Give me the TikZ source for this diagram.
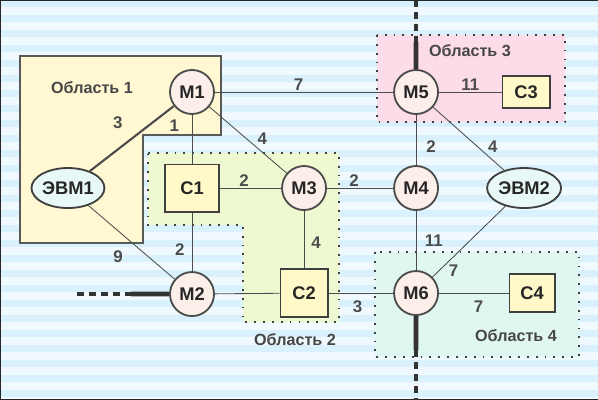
\documentclass[tikz,border=0pt]{standalone}
\usepackage{fontspec}
\setmainfont{Liberation Sans}
\usetikzlibrary{shapes.geometric, positioning}

\definecolor{stripeblue}{HTML}{D8F1FC}
\definecolor{stripelight}{HTML}{F0FAFE}
\definecolor{routerfill}{HTML}{FCEFEA}
\definecolor{serverfill}{HTML}{FFF8C8}
\definecolor{pcfill}{HTML}{E8F8F6}
\definecolor{zoneyellow}{HTML}{FFF8D2}
\definecolor{zonegreen}{HTML}{EEF9D2}
\definecolor{zonepink}{HTML}{FCDCE9}
\definecolor{zonecyan}{HTML}{DFF7F0}

\begin{document}
\begin{tikzpicture}[
  x=0.025cm, y=-0.025cm,
  router/.style={on grid, circle, draw=black!70, line width=1.3pt, fill=routerfill, minimum size=1.1cm, inner sep=0pt, font=\bfseries\fontsize{13}{15}\selectfont, text=black!85},
  server/.style={on grid, rectangle, draw=black!75, line width=1.3pt, fill=serverfill, minimum width=1.18cm, minimum height=1.2cm, inner sep=0pt, font=\bfseries\fontsize{13}{15}\selectfont, text=black!85},
  pc/.style={on grid, ellipse, draw=black!75, line width=1.3pt, fill=pcfill, minimum width=1.8cm, minimum height=1cm, inner sep=0pt, font=\bfseries\fontsize{13}{15}\selectfont, text=black!85},
  link/.style={draw=black!70, line width=0.6pt},
  weight/.style={font=\bfseries\fontsize{12}{14}\selectfont, text=black!70, inner sep=1pt},
  area/.style={font=\bfseries\fontsize{11.5}{14}\selectfont, text=black!72},
  zone/.style={draw=black!75, line width=1.3pt, dash pattern=on 1.3pt off 5pt},
  backbone/.style={line width=3.5pt, draw=black!80},
  backbonedash/.style={backbone, dash pattern=on 5pt off 3.5pt}
]

  \useasboundingbox (0,0) rectangle (598,400);

  % background
  \fill[stripelight] (0,0) rectangle (598,400);
  \foreach \y in {0,15,...,390}
    \fill[stripeblue] (0,\y) rectangle (598,\y+7);
  \draw[black!85, line width=1.2pt] (598,0) -- (0,0) -- (0,400) -- (598,400);

  % areas
  \filldraw[fill=zoneyellow, draw=black!65, line width=1.6pt]
    (20,56) -- (221,56) -- (221,135) -- (143,135) -- (143,243) -- (20,243) -- cycle;
  \filldraw[fill=zonegreen, zone]
    (148,153) -- (339,153) -- (339,322) -- (243,322) -- (243,225) -- (148,225) -- cycle;
  \filldraw[fill=zonepink, zone] (377,35) rectangle (565,122);
  \filldraw[fill=zonecyan, zone] (375,252) rectangle (579,357);

  \node[area] (area1) at (92,88) {Область 1};
  \node[area] (area2) at (295,340) {Область 2};
  \node[area] (area3) at (470,51) {Область 3};
  \node[area] (area4) at (516,336) {Область 4};

  % nodes
  \node[router] (M1) at (192,92) {М1};
  \node[router, right=5.6cm of M1] (M5) {М5};
  \node[router, below=2.4cm of M5] (M4) {М4};
  \node[router, below=2.625cm of M4] (M6) {М6};
  \node[router, left=2.8cm of M4] (M3) {М3};
  \node[server, left=2.8cm of M3, minimum width=1.33cm, minimum height=1.18cm] (C1) {С1};
  \node[pc, left=3.1cm of C1, minimum width=1.75cm] (EVM1) {ЭВМ1};
  \node[router, below=2.65cm of C1] (M2) {М2};
  \node[server, left=2.8cm of M6] (C2) {С2};
  \node[pc, right=2.7cm of M4, minimum width=1.85cm] (EVM2) {ЭВМ2};
  \node[server, right=2.75cm of M5, minimum height=0.78cm] (C3) {С3};
  \node[server, right=2.9cm of M6, minimum width=1.13cm, minimum height=0.95cm] (C4) {С4};

  % backbone
  \coordinate (bbnorth) at (416,0);
  \coordinate (bbnorthend) at (416,42);
  \coordinate (bbsouth) at (416,400);
  \coordinate (bbsouthend) at (416,350);
  \coordinate (bbwest) at (77,294);
  \coordinate (bbwestend) at (131,294);
  \draw[backbonedash] (bbnorth) -- (bbnorthend);
  \draw[backbone] (bbnorthend) -- (M5);
  \draw[backbone] (M6) -- (bbsouthend);
  \draw[backbonedash] (bbsouthend) -- (bbsouth);
  \draw[backbonedash] (bbwest) -- (bbwestend);
  \draw[backbone] (bbwestend) -- (M2);

  % links
  \draw[link] (M1) -- node[weight, above, pos=0.47] {7} (M5);
  \draw[link, line width=1.5pt] (M1) -- node[weight, above left=7pt, pos=0.5] {3} (EVM1);
  \draw[link] (M1) -- node[weight, left=8pt, pos=0.22] {1} (C1);
  \draw[link] (M1) -- node[weight, above right, pos=0.6] {4} (M3);
  \draw[link] (C1) -- node[weight, above, pos=0.4] {2} (M3);
  \draw[link] (M3) -- node[weight, above, pos=0.41] {2} (M4);
  \draw[link] (M5) -- node[weight, above] {11} (C3);
  \draw[link] (M5) -- node[weight, right=6pt, pos=0.63] {2} (M4);
  \draw[link] (M5) -- node[weight, above right, pos=0.75] {4} (EVM2);
  \draw[link] (M3) -- node[weight, right=4pt, pos=0.55] {4} (C2);
  \draw[link] (C1) -- node[weight, left=4pt, pos=0.63] {2} (M2);
  \draw[link] (EVM1) -- node[weight, below left=7pt, pos=0.5] {9} (M2);
  \draw[link] (M2) -- (C2);
  \draw[link] (C2) -- node[weight, below=4pt, pos=0.45] {3} (M6);
  \draw[link] (M4) -- node[weight, right=5pt] {11} (M6);
  \draw[link] (M6) -- node[weight, below right, pos=0.2] {7} (EVM2);
  \draw[link] (M6) -- node[weight, below=4pt, pos=0.57] {7} (C4);

\end{tikzpicture}
\end{document}
